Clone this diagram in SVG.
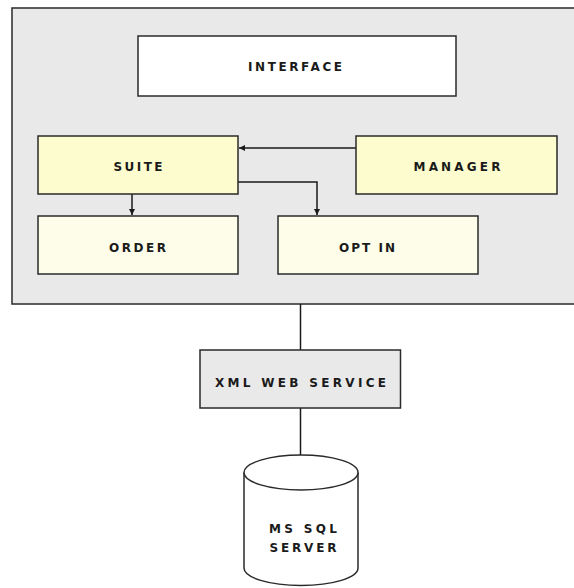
<svg xmlns="http://www.w3.org/2000/svg" width="574" height="588" viewBox="0 0 574 588">
<style>
.box{stroke:#2a2a2a;stroke-width:1.5}
.lbl{font-family:"DejaVu Sans","Liberation Sans",sans-serif;font-size:12px;font-weight:bold;fill:#1a1a1a;text-anchor:middle}
.conn{stroke:#1a1a1a;stroke-width:1.5;fill:none}
</style>
<defs>
<marker id="ah" viewBox="0 0 10 10" refX="10" refY="5" markerWidth="6" markerHeight="6" orient="auto" markerUnits="userSpaceOnUse">
<path d="M0,0 L10,5 L0,10 z" fill="#1a1a1a"/>
</marker>
</defs>
<rect width="574" height="588" fill="#ffffff"/>
<g id="container">
<rect class="box" x="12" y="8" width="572" height="296" fill="#e9e9e9"/>
</g>
<g id="connectors">
<line class="conn" x1="356" y1="148" x2="239" y2="148" marker-end="url(#ah)"/>
<polyline class="conn" points="238,182 317,182 317,215" marker-end="url(#ah)"/>
<line class="conn" x1="132" y1="194" x2="132" y2="215" marker-end="url(#ah)"/>
<line class="conn" x1="300.5" y1="304" x2="300.5" y2="350"/>
<line class="conn" x1="300.5" y1="408" x2="300.5" y2="455"/>
</g>
<g id="interface">
<rect class="box" x="138" y="36" width="318" height="60" fill="#ffffff"/>
<text class="lbl" x="295" y="70.5" textLength="94" lengthAdjust="spacing">INTERFACE</text>
</g>
<g id="suite">
<rect class="box" x="38" y="136" width="200" height="58" fill="#fdfcce"/>
<text class="lbl" x="138" y="170.5" textLength="49" lengthAdjust="spacing">SUITE</text>
</g>
<g id="manager">
<rect class="box" x="356" y="136" width="201" height="58" fill="#fdfcce"/>
<text class="lbl" x="457" y="171" textLength="87" lengthAdjust="spacing">MANAGER</text>
</g>
<g id="order">
<rect class="box" x="38" y="216" width="200" height="58" fill="#fdfdea"/>
<text class="lbl" x="137.5" y="251.5" textLength="57" lengthAdjust="spacing">ORDER</text>
</g>
<g id="optin">
<rect class="box" x="278" y="216" width="200" height="58" fill="#fdfdea"/>
<text class="lbl" x="367" y="251.5" textLength="56" lengthAdjust="spacing">OPT IN</text>
</g>
<g id="xmlws">
<rect class="box" x="200" y="350" width="200.5" height="58" fill="#e9e9e9"/>
<text class="lbl" x="300.5" y="387" textLength="171" lengthAdjust="spacing">XML WEB SERVICE</text>
</g>
<g id="mssql">
<path class="box" d="M244,472.5 L244,568 A57,17.5 0 0 0 358,568 L358,472.5" fill="#ffffff"/>
<ellipse class="box" cx="301" cy="472.5" rx="57" ry="17.5" fill="#ffffff"/>
<text class="lbl" x="303" y="533" textLength="68" lengthAdjust="spacing">MS SQL</text>
<text class="lbl" x="303" y="552" textLength="67" lengthAdjust="spacing">SERVER</text>
</g>
</svg>
